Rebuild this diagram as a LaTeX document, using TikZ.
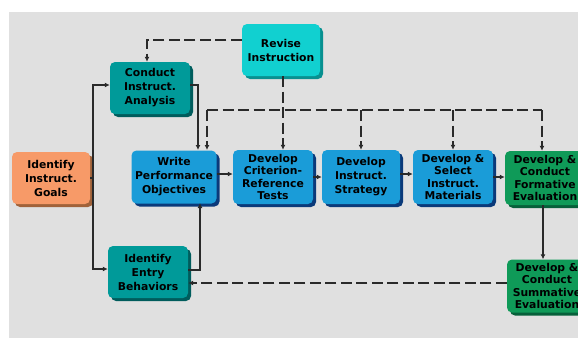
\documentclass[tikz,border=0pt]{standalone}
\usepackage{fontspec}
\setmainfont{DejaVu Sans}
\usetikzlibrary{arrows.meta,shadows}
\definecolor{bg}{HTML}{E0E0E0}
\definecolor{orng}{HTML}{F79A68}
\definecolor{orngdk}{HTML}{A0623A}
\definecolor{tealb}{HTML}{009A99}
\definecolor{tealdk}{HTML}{005C5C}
\definecolor{cyanb}{HTML}{11D0D0}
\definecolor{cyandk}{HTML}{089090}
\definecolor{blub}{HTML}{1A9CD8}
\definecolor{bludk}{HTML}{0B3A7A}
\definecolor{grnb}{HTML}{0F9A58}
\definecolor{grndk}{HTML}{06603A}
\definecolor{ln}{HTML}{2A2A2A}
\tikzset{
  ibox/.style={rounded corners=5pt, minimum width=80pt, minimum height=52pt,
    inner sep=0.5pt, align=center, text=black,
    font=\bfseries\fontsize{10.8}{14}\selectfont},
  tight/.style={font=\bfseries\fontsize{10.8}{12.2}\selectfont},
  boxshadow/.style={drop shadow={shadow xshift=3pt, shadow yshift=-3pt,
    fill=#1, opacity=1}},
  orbox/.style={ibox, fill=orng, boxshadow=orngdk},
  tlbox/.style={ibox, fill=tealb, boxshadow=tealdk},
  cybox/.style={ibox, fill=cyanb, boxshadow=cyandk},
  blbox/.style={ibox, fill=blub, boxshadow=bludk},
  gnbox/.style={ibox, fill=grnb, boxshadow=grndk},
  conn/.style={draw=ln, line width=1.3pt},
  tip/.style={-{Latex[length=5pt,width=5pt]}},
  arr/.style={conn, tip},
  dline/.style={conn, dash pattern=on 11pt off 4.5pt}
}
\begin{document}
\begin{tikzpicture}[x=1pt,y=-1pt]
\useasboundingbox (0,0) rectangle (578,338);
\fill[bg] (9,12) rectangle (578,338);

  \node[cybox, minimum width=78pt] (rev) at (281,50) {Revise\\Instruction};
  \node[tlbox] (anal) at (150,88) {Conduct\\Instruct.\\Analysis};
  \node[orbox, minimum width=78pt] (goal) at (51,178) {Identify\\Instruct.\\Goals};
  \node[blbox, minimum width=85pt, minimum height=53pt] (obj) at (174,177) {Write\\Performance\\Objectives};
  \node[blbox, tight, minimum height=54pt] (test) at (273,177) {Develop\\Criterion-\\Reference\\Tests};
  \node[blbox, minimum width=78pt, minimum height=54pt] (strat) at (361,177) {Develop\\Instruct.\\Strategy};
  \node[blbox, tight, minimum height=54pt] (mat) at (453,177) {Develop \&\\Select\\Instruct.\\Materials};
  \node[gnbox, tight, minimum height=54pt] (form) at (545,178) {Develop \&\\Conduct\\Formative\\Evaluation};
  \node[tlbox] (entry) at (148,272) {Identify\\Entry\\Behaviors};
  \node[gnbox, tight, minimum height=53pt] (summ) at (547,286) {Develop \&\\Conduct\\Summative\\Evaluation};

  \coordinate (spine) at (93,0);
  \coordinate (in1) at (198,150);
  \coordinate (in2) at (207,150);
  \coordinate (in3) at (200,203);
  \coordinate (bus) at (0,110);

  \draw[conn] (goal.east) -- (goal.east -| spine);
  \draw[arr] (goal.east -| spine) |- ([yshift=3pt]anal.west);
  \draw[arr] (goal.east -| spine) |- ([yshift=3pt]entry.west);
  \draw[arr] ([yshift=3pt]anal.east) -| (in1);
  \draw[arr] ([yshift=2pt]entry.east) -| (in3);
  \draw[arr] ([yshift=3pt]obj.east) -- ([yshift=3pt]test.west);
  \draw[arr] (test.east) -- (strat.west);
  \draw[arr] ([yshift=3pt]strat.east) -- ([yshift=3pt]mat.west);
  \draw[arr] (mat.east) -- (form.west |- mat.east);
  \draw[arr] ([xshift=-2pt]form.south) -- ([xshift=-2pt]form.south |- summ.north);

  \draw[dline, tip] ([yshift=10pt]rev.west) -| ([xshift=-3pt]anal.north);
  \draw[dline, tip] ([xshift=2pt]rev.south) -- ([xshift=2pt]rev.south |- test.north);
  \draw[dline] (in2 |- bus) -- ([xshift=-3pt]form.north |- bus);
  \draw[dline, tip] (in2 |- bus) -- (in2);
  \foreach \n in {strat,mat}
    \draw[dline, tip] (\n.north |- bus) -- (\n.north);
  \draw[dline, tip] ([xshift=-3pt]form.north |- bus) -- ([xshift=-3pt]form.north);
  \draw[dline, tip] ([yshift=3pt]summ.west) -- ([yshift=3pt]summ.west -| entry.east);
\end{tikzpicture}
\end{document}
